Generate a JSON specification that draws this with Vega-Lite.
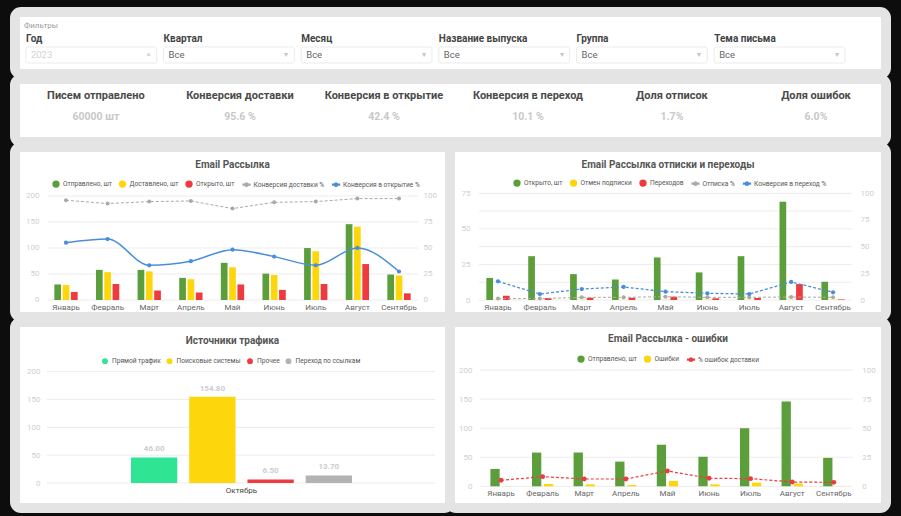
{
  "$schema": "https://vega.github.io/schema/vega-lite/v6.json",
  "background": "#0d0d0d",
  "padding": {"left": 10, "top": 7, "right": 10, "bottom": 3},
  "spacing": -15,
  "resolve": {"scale": {"color": "independent"}, "legend": {"color": "independent"}},
  "datasets": {
    "filters": [
      {"Фильтр": "Год", "Значение": "2023"},
      {"Фильтр": "Квартал", "Значение": "Все"},
      {"Фильтр": "Месяц", "Значение": "Все"},
      {"Фильтр": "Название выпуска", "Значение": "Все"},
      {"Фильтр": "Группа", "Значение": "Все"},
      {"Фильтр": "Тема письма", "Значение": "Все"}
    ],
    "kpi": [
      {"Показатель": "Писем отправлено", "Значение": "60000 шт"},
      {"Показатель": "Конверсия доставки", "Значение": "95.6 %"},
      {"Показатель": "Конверсия в открытие", "Значение": "42.4 %"},
      {"Показатель": "Конверсия в переход", "Значение": "10.1 %"},
      {"Показатель": "Доля отписок", "Значение": "1.7%"},
      {"Показатель": "Доля ошибок", "Значение": "6.0%"}
    ],
    "monthly": [
      {"Месяц": "Январь", "Отправлено, шт": 29.9, "Доставлено, шт": 28.7, "Открыто, шт": 15.5, "Конверсия доставки %": 95.9, "Конверсия в открытие %": 55.1, "Отмен подписки": 0.2, "Переходов": 3.0, "Отписка %": 1.3, "Конверсия в переход %": 17.5, "Ошибки": 0.3, "% ошибок доставки": 5.2},
      {"Месяц": "Февраль", "Отправлено, шт": 58.0, "Доставлено, шт": 53.5, "Открыто, шт": 30.8, "Конверсия доставки %": 92.7, "Конверсия в открытие %": 58.6, "Отмен подписки": 0.2, "Переходов": 1.4, "Отписка %": 1.3, "Конверсия в переход %": 5.6, "Ошибки": 4.0, "% ошибок доставки": 8.3},
      {"Месяц": "Март", "Отправлено, шт": 58.0, "Доставлено, шт": 55.0, "Открыто, шт": 18.2, "Конверсия доставки %": 94.6, "Конверсия в открытие %": 33.4, "Отмен подписки": 0.2, "Переходов": 1.6, "Отписка %": 2.5, "Конверсия в переход %": 10.3, "Ошибки": 3.4, "% ошибок доставки": 6.3},
      {"Месяц": "Апрель", "Отправлено, шт": 42.5, "Доставлено, шт": 40.0, "Открыто, шт": 14.4, "Конверсия доставки %": 95.2, "Конверсия в открытие %": 37.3, "Отмен подписки": 0.2, "Переходов": 1.6, "Отписка %": 2.5, "Конверсия в переход %": 12.2, "Ошибки": 2.3, "% ошибок доставки": 6.3},
      {"Месяц": "Май", "Отправлено, шт": 71.5, "Доставлено, шт": 63.0, "Открыто, шт": 29.9, "Конверсия доставки %": 87.9, "Конверсия в открытие %": 48.4, "Отмен подписки": 0.2, "Переходов": 2.3, "Отписка %": 3.1, "Конверсия в переход %": 7.8, "Ошибки": 9.2, "% ошибок доставки": 13.2},
      {"Месяц": "Июнь", "Отправлено, шт": 50.7, "Доставлено, шт": 48.0, "Открыто, шт": 19.4, "Конверсия доставки %": 93.9, "Конверсия в открытие %": 41.7, "Отмен подписки": 0.2, "Переходов": 1.2, "Отписка %": 2.5, "Конверсия в переход %": 6.3, "Ошибки": 3.4, "% ошибок доставки": 6.9},
      {"Месяц": "Июль", "Отправлено, шт": 99.9, "Доставлено, шт": 93.6, "Открыто, шт": 30.8, "Конверсия доставки %": 94.6, "Конверсия в открытие %": 33.4, "Отмен подписки": 0.2, "Переходов": 1.4, "Отписка %": 2.5, "Конверсия в переход %": 5.6, "Ошибки": 6.3, "% ошибок доставки": 6.6},
      {"Месяц": "Август", "Отправлено, шт": 145.8, "Доставлено, шт": 141.0, "Открыто, шт": 69.1, "Конверсия доставки %": 97.5, "Конверсия в открытие %": 50.0, "Отмен подписки": 0.2, "Переходов": 11.2, "Отписка %": 2.8, "Конверсия в переход %": 16.9, "Ошибки": 4.6, "% ошибок доставки": 3.7},
      {"Месяц": "Сентябрь", "Отправлено, шт": 48.9, "Доставлено, шт": 47.0, "Открыто, шт": 12.8, "Конверсия доставки %": 97.5, "Конверсия в открытие %": 27.4, "Отмен подписки": 0.2, "Переходов": 0.4, "Отписка %": 2.5, "Конверсия в переход %": 7.2, "Ошибки": 0.3, "% ошибок доставки": 3.4}
    ],
    "traffic": [
      {"Месяц": "Октябрь", "Прямой трафик": 46.0, "Поисковые системы": 154.8, "Прочее": 6.5, "Переход по ссылкам": 13.7}
    ]
  },
  "vconcat": [
    {
      "width": 871,
      "height": 62,
      "title": {"text": "Фильтры", "anchor": "start", "dx": 9, "offset": -18, "fontSize": 8, "fontWeight": "normal", "color": "#9b9b9b"},
      "data": {"name": "filters"},
      "layer": [
        {
          "mark": {"type": "rect", "fill": "#ffffff", "stroke": "#ebebeb", "strokeWidth": 1, "cornerRadius": 2},
          "encoding": {
            "x": {"field": "Фильтр", "type": "nominal", "scale": {"type": "band", "domain": ["Год", "Квартал", "Месяц", "Название выпуска", "Группа", "Тема письма"], "paddingInner": 0.05, "paddingOuter": 0.189, "align": 0.21}, "axis": null},
            "y": {"datum": "box", "type": "nominal", "scale": {"type": "band", "domain": ["label", "box"], "paddingInner": 0, "paddingOuter": 0.9375, "align": 0.633}, "axis": null}
          }
        },
        {
          "mark": {"type": "text", "align": "left", "baseline": "middle", "fontSize": 10, "fontWeight": "bold", "color": "#444444"},
          "encoding": {
            "x": {"field": "Фильтр", "type": "nominal", "bandPosition": 0, "scale": {"type": "band", "domain": ["Год", "Квартал", "Месяц", "Название выпуска", "Группа", "Тема письма"], "paddingInner": 0.05, "paddingOuter": 0.189, "align": 0.21}, "axis": null},
            "y": {"datum": "label", "type": "nominal", "scale": {"type": "band", "domain": ["label", "box"], "paddingInner": 0, "paddingOuter": 0.9375, "align": 0.633}, "axis": null},
            "text": {"field": "Фильтр"}
          }
        },
        {
          "mark": {"type": "text", "align": "left", "baseline": "middle", "dx": 5, "fontSize": 9.5},
          "encoding": {
            "x": {"field": "Фильтр", "type": "nominal", "bandPosition": 0, "scale": {"type": "band", "domain": ["Год", "Квартал", "Месяц", "Название выпуска", "Группа", "Тема письма"], "paddingInner": 0.05, "paddingOuter": 0.189, "align": 0.21}, "axis": null},
            "y": {"datum": "box", "type": "nominal", "scale": {"type": "band", "domain": ["label", "box"], "paddingInner": 0, "paddingOuter": 0.9375, "align": 0.633}, "axis": null},
            "text": {"field": "Значение"},
            "color": {"condition": {"test": "datum['Значение'] !== 'Все'", "value": "#d2d2d2"}, "value": "#666666"}
          }
        },
        {
          "mark": {"type": "text", "align": "right", "baseline": "middle", "dx": -6, "fontSize": 8, "color": "#c4c4c4"},
          "encoding": {
            "x": {"field": "Фильтр", "type": "nominal", "bandPosition": 1, "scale": {"type": "band", "domain": ["Год", "Квартал", "Месяц", "Название выпуска", "Группа", "Тема письма"], "paddingInner": 0.05, "paddingOuter": 0.189, "align": 0.21}, "axis": null},
            "y": {"datum": "box", "type": "nominal", "scale": {"type": "band", "domain": ["label", "box"], "paddingInner": 0, "paddingOuter": 0.9375, "align": 0.633}, "axis": null},
            "text": {"condition": {"test": "datum['Значение'] !== 'Все'", "value": "×"}, "value": "▾"}
          }
        }
      ]
    },
    {
      "width": 871,
      "height": 63,
      "data": {"name": "kpi"},
      "layer": [
        {
          "mark": {"type": "text", "fontSize": 11, "fontWeight": "bold", "color": "#4a4a4a"},
          "encoding": {
            "x": {"field": "Показатель", "type": "nominal", "scale": {"type": "point", "domain": ["Писем отправлено", "Конверсия доставки", "Конверсия в открытие", "Конверсия в переход", "Доля отписок", "Доля ошибок"], "padding": 0.524, "align": 0.536}, "axis": null},
            "y": {"datum": "Заголовок", "type": "nominal", "scale": {"type": "point", "domain": ["Заголовок", "Значение"], "padding": 1.0, "align": 0.405}, "axis": null},
            "text": {"field": "Показатель"}
          }
        },
        {
          "mark": {"type": "text", "fontSize": 10.5, "fontWeight": "bold", "color": "#c8c8c8"},
          "encoding": {
            "x": {"field": "Показатель", "type": "nominal", "scale": {"type": "point", "domain": ["Писем отправлено", "Конверсия доставки", "Конверсия в открытие", "Конверсия в переход", "Доля отписок", "Доля ошибок"], "padding": 0.524, "align": 0.536}, "axis": null},
            "y": {"datum": "Значение", "type": "nominal", "scale": {"type": "point", "domain": ["Заголовок", "Значение"], "padding": 1.0, "align": 0.405}, "axis": null},
            "text": {"field": "Значение"}
          }
        }
      ]
    },
    {
      "hconcat": [
        {
          "width": 435,
          "height": 170,
          "title": {"text": "Email Рассылка", "offset": -22.5},
          "data": {"name": "monthly"},
          "layer": [
            {
              "layer": [
                {
                  "data": {"values": [{"v": 0}, {"v": 50}, {"v": 100}, {"v": 150}, {"v": 200}]},
                  "mark": {"type": "rule", "color": "#ececec", "strokeWidth": 1},
                  "encoding": {
                    "x": {"datum": "Январь", "type": "nominal", "bandPosition": -0.273, "scale": {"type": "band", "domain": ["Январь", "Февраль", "Март", "Апрель", "Май", "Июнь", "Июль", "Август", "Сентябрь"], "paddingInner": 0.44, "paddingOuter": 0.945, "align": 0.5}, "axis": {"offset": -17, "labelPadding": 3, "labelColor": "#666666", "labelFontSize": 8, "labelAngle": 0, "title": null}},
                    "x2": {"datum": "Сентябрь", "bandPosition": 1.315},
                    "y": {"field": "v", "type": "quantitative", "scale": {"domain": [-32.7, 294.2], "nice": false, "zero": false}, "axis": {"orient": "left", "offset": -28, "values": [0, 50, 100, 150, 200], "labelColor": "#cfcfcf", "labelFontSize": 8, "labelPadding": 4, "title": null}}
                  }
                },
                {
                  "mark": {"type": "bar", "orient": "vertical"},
                  "encoding": {
                    "x": {"field": "Месяц", "type": "nominal", "bandPosition": 0, "scale": {"type": "band", "domain": ["Январь", "Февраль", "Март", "Апрель", "Май", "Июнь", "Июль", "Август", "Сентябрь"], "paddingInner": 0.44, "paddingOuter": 0.945, "align": 0.5}, "axis": {"offset": -17, "labelPadding": 3, "labelColor": "#666666", "labelFontSize": 8, "labelAngle": 0, "title": null}},
                    "x2": {"field": "Месяц", "bandPosition": 0.2876},
                    "y": {"field": "Отправлено, шт", "type": "quantitative", "scale": {"domain": [-32.7, 294.2], "nice": false, "zero": false}, "axis": {"orient": "left", "offset": -28, "values": [0, 50, 100, 150, 200], "labelColor": "#cfcfcf", "labelFontSize": 8, "labelPadding": 4, "title": null}},
                    "color": {"datum": "Отправлено, шт", "type": "nominal", "scale": {"domain": ["Отправлено, шт", "Доставлено, шт", "Открыто, шт", "Конверсия доставки %", "Конверсия в открытие %"], "range": ["#5c9e3b", "#fdd60b", "#ef3b3e", "#a9a9a9", "#4a8edb"]}, "legend": {"legendX": 37, "legendY": 33, "encode": {"symbols": {"update": {"shape": {"signal": "indexof(datum.value, '%') >= 0 ? 'M-1.15,-0.13H1.15V0.13H-1.15Z M0.55,0L0.39,0.39L0,0.55L-0.39,0.39L-0.55,0L-0.39,-0.39L0,-0.55L0.39,-0.39Z' : 'circle'"}}}}}}
                  }
                },
                {
                  "mark": {"type": "bar", "orient": "vertical"},
                  "encoding": {
                    "x": {"field": "Месяц", "type": "nominal", "bandPosition": 0.3562, "scale": {"type": "band", "domain": ["Январь", "Февраль", "Март", "Апрель", "Май", "Июнь", "Июль", "Август", "Сентябрь"], "paddingInner": 0.44, "paddingOuter": 0.945, "align": 0.5}, "axis": {"offset": -17, "labelPadding": 3, "labelColor": "#666666", "labelFontSize": 8, "labelAngle": 0, "title": null}},
                    "x2": {"field": "Месяц", "bandPosition": 0.6438},
                    "y": {"field": "Доставлено, шт", "type": "quantitative", "scale": {"domain": [-32.7, 294.2], "nice": false, "zero": false}, "axis": {"orient": "left", "offset": -28, "values": [0, 50, 100, 150, 200], "labelColor": "#cfcfcf", "labelFontSize": 8, "labelPadding": 4, "title": null}},
                    "color": {"datum": "Доставлено, шт", "type": "nominal", "scale": {"domain": ["Отправлено, шт", "Доставлено, шт", "Открыто, шт", "Конверсия доставки %", "Конверсия в открытие %"], "range": ["#5c9e3b", "#fdd60b", "#ef3b3e", "#a9a9a9", "#4a8edb"]}, "legend": {"legendX": 37, "legendY": 33, "encode": {"symbols": {"update": {"shape": {"signal": "indexof(datum.value, '%') >= 0 ? 'M-1.15,-0.13H1.15V0.13H-1.15Z M0.55,0L0.39,0.39L0,0.55L-0.39,0.39L-0.55,0L-0.39,-0.39L0,-0.55L0.39,-0.39Z' : 'circle'"}}}}}}
                  }
                },
                {
                  "mark": {"type": "bar", "orient": "vertical"},
                  "encoding": {
                    "x": {"field": "Месяц", "type": "nominal", "bandPosition": 0.7124, "scale": {"type": "band", "domain": ["Январь", "Февраль", "Март", "Апрель", "Май", "Июнь", "Июль", "Август", "Сентябрь"], "paddingInner": 0.44, "paddingOuter": 0.945, "align": 0.5}, "axis": {"offset": -17, "labelPadding": 3, "labelColor": "#666666", "labelFontSize": 8, "labelAngle": 0, "title": null}},
                    "x2": {"field": "Месяц", "bandPosition": 1},
                    "y": {"field": "Открыто, шт", "type": "quantitative", "scale": {"domain": [-32.7, 294.2], "nice": false, "zero": false}, "axis": {"orient": "left", "offset": -28, "values": [0, 50, 100, 150, 200], "labelColor": "#cfcfcf", "labelFontSize": 8, "labelPadding": 4, "title": null}},
                    "color": {"datum": "Открыто, шт", "type": "nominal", "scale": {"domain": ["Отправлено, шт", "Доставлено, шт", "Открыто, шт", "Конверсия доставки %", "Конверсия в открытие %"], "range": ["#5c9e3b", "#fdd60b", "#ef3b3e", "#a9a9a9", "#4a8edb"]}, "legend": {"legendX": 37, "legendY": 33, "encode": {"symbols": {"update": {"shape": {"signal": "indexof(datum.value, '%') >= 0 ? 'M-1.15,-0.13H1.15V0.13H-1.15Z M0.55,0L0.39,0.39L0,0.55L-0.39,0.39L-0.55,0L-0.39,-0.39L0,-0.55L0.39,-0.39Z' : 'circle'"}}}}}}
                  }
                }
              ]
            },
            {
              "layer": [
                {
                  "mark": {"type": "line", "strokeDash": [3, 2], "strokeWidth": 1, "point": {"filled": true, "size": 16}},
                  "encoding": {
                    "x": {"field": "Месяц", "type": "nominal", "scale": {"type": "band", "domain": ["Январь", "Февраль", "Март", "Апрель", "Май", "Июнь", "Июль", "Август", "Сентябрь"], "paddingInner": 0.44, "paddingOuter": 0.945, "align": 0.5}, "axis": {"offset": -17, "labelPadding": 3, "labelColor": "#666666", "labelFontSize": 8, "labelAngle": 0, "title": null}},
                    "y": {"field": "Конверсия доставки %", "type": "quantitative", "scale": {"domain": [-16.35, 147.1], "nice": false, "zero": false}, "axis": {"orient": "right", "offset": -31, "values": [0, 25, 50, 75, 100], "labelColor": "#cfcfcf", "labelFontSize": 8, "labelPadding": 4, "title": null}},
                    "color": {"datum": "Конверсия доставки %", "type": "nominal", "scale": {"domain": ["Отправлено, шт", "Доставлено, шт", "Открыто, шт", "Конверсия доставки %", "Конверсия в открытие %"], "range": ["#5c9e3b", "#fdd60b", "#ef3b3e", "#a9a9a9", "#4a8edb"]}, "legend": {"legendX": 37, "legendY": 33, "encode": {"symbols": {"update": {"shape": {"signal": "indexof(datum.value, '%') >= 0 ? 'M-1.15,-0.13H1.15V0.13H-1.15Z M0.55,0L0.39,0.39L0,0.55L-0.39,0.39L-0.55,0L-0.39,-0.39L0,-0.55L0.39,-0.39Z' : 'circle'"}}}}}}
                  }
                },
                {
                  "mark": {"type": "line", "interpolate": "monotone", "strokeWidth": 1.5, "point": {"filled": true, "size": 18}},
                  "encoding": {
                    "x": {"field": "Месяц", "type": "nominal", "scale": {"type": "band", "domain": ["Январь", "Февраль", "Март", "Апрель", "Май", "Июнь", "Июль", "Август", "Сентябрь"], "paddingInner": 0.44, "paddingOuter": 0.945, "align": 0.5}, "axis": {"offset": -17, "labelPadding": 3, "labelColor": "#666666", "labelFontSize": 8, "labelAngle": 0, "title": null}},
                    "y": {"field": "Конверсия в открытие %", "type": "quantitative", "scale": {"domain": [-16.35, 147.1], "nice": false, "zero": false}, "axis": {"orient": "right", "offset": -31, "values": [0, 25, 50, 75, 100], "labelColor": "#cfcfcf", "labelFontSize": 8, "labelPadding": 4, "title": null}},
                    "color": {"datum": "Конверсия в открытие %", "type": "nominal", "scale": {"domain": ["Отправлено, шт", "Доставлено, шт", "Открыто, шт", "Конверсия доставки %", "Конверсия в открытие %"], "range": ["#5c9e3b", "#fdd60b", "#ef3b3e", "#a9a9a9", "#4a8edb"]}, "legend": {"legendX": 37, "legendY": 33, "encode": {"symbols": {"update": {"shape": {"signal": "indexof(datum.value, '%') >= 0 ? 'M-1.15,-0.13H1.15V0.13H-1.15Z M0.55,0L0.39,0.39L0,0.55L-0.39,0.39L-0.55,0L-0.39,-0.39L0,-0.55L0.39,-0.39Z' : 'circle'"}}}}}}
                  }
                }
              ]
            }
          ],
          "resolve": {"scale": {"y": "independent"}}
        },
        {
          "width": 436,
          "height": 170,
          "title": {"text": "Email Рассылка отписки и переходы", "offset": -22.5},
          "data": {"name": "monthly"},
          "layer": [
            {
              "layer": [
                {
                  "data": {"values": [{"v": 0}, {"v": 12.5}, {"v": 25}, {"v": 37.5}, {"v": 50}, {"v": 62.5}, {"v": 75}]},
                  "mark": {"type": "rule", "color": "#ececec", "strokeWidth": 1},
                  "encoding": {
                    "x": {"datum": "Январь", "type": "nominal", "bandPosition": -0.315, "scale": {"type": "band", "domain": ["Январь", "Февраль", "Март", "Апрель", "Май", "Июнь", "Июль", "Август", "Сентябрь"], "paddingInner": 0.444, "paddingOuter": 0.927, "align": 0.468}, "axis": {"offset": -17, "labelPadding": 3, "labelColor": "#666666", "labelFontSize": 8, "labelAngle": 0, "title": null}},
                    "x2": {"datum": "Сентябрь", "bandPosition": 1.315},
                    "y": {"field": "v", "type": "quantitative", "scale": {"domain": [-11.95, 107.55], "nice": false, "zero": false}, "axis": {"orient": "left", "offset": -24, "values": [0, 25, 50, 75], "labelColor": "#cfcfcf", "labelFontSize": 8, "labelPadding": 4, "title": null}}
                  }
                },
                {
                  "mark": {"type": "bar", "orient": "vertical"},
                  "encoding": {
                    "x": {"field": "Месяц", "type": "nominal", "bandPosition": 0, "scale": {"type": "band", "domain": ["Январь", "Февраль", "Март", "Апрель", "Май", "Июнь", "Июль", "Август", "Сентябрь"], "paddingInner": 0.444, "paddingOuter": 0.927, "align": 0.468}, "axis": {"offset": -17, "labelPadding": 3, "labelColor": "#666666", "labelFontSize": 8, "labelAngle": 0, "title": null}},
                    "x2": {"field": "Месяц", "bandPosition": 0.2876},
                    "y": {"field": "Открыто, шт", "type": "quantitative", "scale": {"domain": [-11.95, 107.55], "nice": false, "zero": false}, "axis": {"orient": "left", "offset": -24, "values": [0, 25, 50, 75], "labelColor": "#cfcfcf", "labelFontSize": 8, "labelPadding": 4, "title": null}},
                    "color": {"datum": "Открыто, шт", "type": "nominal", "scale": {"domain": ["Открыто, шт", "Отмен подписки", "Переходов", "Отписка %", "Конверсия в переход %"], "range": ["#5c9e3b", "#fdd60b", "#ef3b3e", "#a9a9a9", "#4a8edb"]}, "legend": {"legendX": 63, "legendY": 32, "encode": {"symbols": {"update": {"shape": {"signal": "indexof(datum.value, '%') >= 0 ? 'M-1.15,-0.13H1.15V0.13H-1.15Z M0.55,0L0.39,0.39L0,0.55L-0.39,0.39L-0.55,0L-0.39,-0.39L0,-0.55L0.39,-0.39Z' : 'circle'"}}}}}}
                  }
                },
                {
                  "mark": {"type": "bar", "orient": "vertical"},
                  "encoding": {
                    "x": {"field": "Месяц", "type": "nominal", "bandPosition": 0.3562, "scale": {"type": "band", "domain": ["Январь", "Февраль", "Март", "Апрель", "Май", "Июнь", "Июль", "Август", "Сентябрь"], "paddingInner": 0.444, "paddingOuter": 0.927, "align": 0.468}, "axis": {"offset": -17, "labelPadding": 3, "labelColor": "#666666", "labelFontSize": 8, "labelAngle": 0, "title": null}},
                    "x2": {"field": "Месяц", "bandPosition": 0.6438},
                    "y": {"field": "Отмен подписки", "type": "quantitative", "scale": {"domain": [-11.95, 107.55], "nice": false, "zero": false}, "axis": {"orient": "left", "offset": -24, "values": [0, 25, 50, 75], "labelColor": "#cfcfcf", "labelFontSize": 8, "labelPadding": 4, "title": null}},
                    "color": {"datum": "Отмен подписки", "type": "nominal", "scale": {"domain": ["Открыто, шт", "Отмен подписки", "Переходов", "Отписка %", "Конверсия в переход %"], "range": ["#5c9e3b", "#fdd60b", "#ef3b3e", "#a9a9a9", "#4a8edb"]}, "legend": {"legendX": 63, "legendY": 32, "encode": {"symbols": {"update": {"shape": {"signal": "indexof(datum.value, '%') >= 0 ? 'M-1.15,-0.13H1.15V0.13H-1.15Z M0.55,0L0.39,0.39L0,0.55L-0.39,0.39L-0.55,0L-0.39,-0.39L0,-0.55L0.39,-0.39Z' : 'circle'"}}}}}}
                  }
                },
                {
                  "mark": {"type": "bar", "orient": "vertical"},
                  "encoding": {
                    "x": {"field": "Месяц", "type": "nominal", "bandPosition": 0.7124, "scale": {"type": "band", "domain": ["Январь", "Февраль", "Март", "Апрель", "Май", "Июнь", "Июль", "Август", "Сентябрь"], "paddingInner": 0.444, "paddingOuter": 0.927, "align": 0.468}, "axis": {"offset": -17, "labelPadding": 3, "labelColor": "#666666", "labelFontSize": 8, "labelAngle": 0, "title": null}},
                    "x2": {"field": "Месяц", "bandPosition": 1},
                    "y": {"field": "Переходов", "type": "quantitative", "scale": {"domain": [-11.95, 107.55], "nice": false, "zero": false}, "axis": {"orient": "left", "offset": -24, "values": [0, 25, 50, 75], "labelColor": "#cfcfcf", "labelFontSize": 8, "labelPadding": 4, "title": null}},
                    "color": {"datum": "Переходов", "type": "nominal", "scale": {"domain": ["Открыто, шт", "Отмен подписки", "Переходов", "Отписка %", "Конверсия в переход %"], "range": ["#5c9e3b", "#fdd60b", "#ef3b3e", "#a9a9a9", "#4a8edb"]}, "legend": {"legendX": 63, "legendY": 32, "encode": {"symbols": {"update": {"shape": {"signal": "indexof(datum.value, '%') >= 0 ? 'M-1.15,-0.13H1.15V0.13H-1.15Z M0.55,0L0.39,0.39L0,0.55L-0.39,0.39L-0.55,0L-0.39,-0.39L0,-0.55L0.39,-0.39Z' : 'circle'"}}}}}}
                  }
                }
              ]
            },
            {
              "layer": [
                {
                  "mark": {"type": "line", "strokeDash": [3, 2], "strokeWidth": 1, "point": {"filled": true, "size": 16}},
                  "encoding": {
                    "x": {"field": "Месяц", "type": "nominal", "scale": {"type": "band", "domain": ["Январь", "Февраль", "Март", "Апрель", "Май", "Июнь", "Июль", "Август", "Сентябрь"], "paddingInner": 0.444, "paddingOuter": 0.927, "align": 0.468}, "axis": {"offset": -17, "labelPadding": 3, "labelColor": "#666666", "labelFontSize": 8, "labelAngle": 0, "title": null}},
                    "y": {"field": "Отписка %", "type": "quantitative", "scale": {"domain": [-15.93, 143.4], "nice": false, "zero": false}, "axis": {"orient": "right", "offset": -30, "values": [0, 25, 50, 75, 100], "labelColor": "#cfcfcf", "labelFontSize": 8, "labelPadding": 4, "title": null}},
                    "color": {"datum": "Отписка %", "type": "nominal", "scale": {"domain": ["Открыто, шт", "Отмен подписки", "Переходов", "Отписка %", "Конверсия в переход %"], "range": ["#5c9e3b", "#fdd60b", "#ef3b3e", "#a9a9a9", "#4a8edb"]}, "legend": {"legendX": 63, "legendY": 32, "encode": {"symbols": {"update": {"shape": {"signal": "indexof(datum.value, '%') >= 0 ? 'M-1.15,-0.13H1.15V0.13H-1.15Z M0.55,0L0.39,0.39L0,0.55L-0.39,0.39L-0.55,0L-0.39,-0.39L0,-0.55L0.39,-0.39Z' : 'circle'"}}}}}}
                  }
                },
                {
                  "mark": {"type": "line", "strokeDash": [3, 2], "strokeWidth": 1.3, "point": {"filled": true, "size": 18}},
                  "encoding": {
                    "x": {"field": "Месяц", "type": "nominal", "scale": {"type": "band", "domain": ["Январь", "Февраль", "Март", "Апрель", "Май", "Июнь", "Июль", "Август", "Сентябрь"], "paddingInner": 0.444, "paddingOuter": 0.927, "align": 0.468}, "axis": {"offset": -17, "labelPadding": 3, "labelColor": "#666666", "labelFontSize": 8, "labelAngle": 0, "title": null}},
                    "y": {"field": "Конверсия в переход %", "type": "quantitative", "scale": {"domain": [-15.93, 143.4], "nice": false, "zero": false}, "axis": {"orient": "right", "offset": -30, "values": [0, 25, 50, 75, 100], "labelColor": "#cfcfcf", "labelFontSize": 8, "labelPadding": 4, "title": null}},
                    "color": {"datum": "Конверсия в переход %", "type": "nominal", "scale": {"domain": ["Открыто, шт", "Отмен подписки", "Переходов", "Отписка %", "Конверсия в переход %"], "range": ["#5c9e3b", "#fdd60b", "#ef3b3e", "#a9a9a9", "#4a8edb"]}, "legend": {"legendX": 63, "legendY": 32, "encode": {"symbols": {"update": {"shape": {"signal": "indexof(datum.value, '%') >= 0 ? 'M-1.15,-0.13H1.15V0.13H-1.15Z M0.55,0L0.39,0.39L0,0.55L-0.39,0.39L-0.55,0L-0.39,-0.39L0,-0.55L0.39,-0.39Z' : 'circle'"}}}}}}
                  }
                }
              ]
            }
          ],
          "resolve": {"scale": {"y": "independent"}}
        }
      ],
      "spacing": 0,
      "bounds": "flush",
      "resolve": {"scale": {"color": "independent"}, "legend": {"color": "independent"}}
    },
    {
      "hconcat": [
        {
          "width": 435,
          "height": 186,
          "title": {"text": "Источники трафика", "offset": -23.5},
          "data": {"name": "traffic"},
          "layer": [
            {
              "data": {"values": [{"v": 0}, {"v": 50}, {"v": 100}, {"v": 150}, {"v": 200}]},
              "mark": {"type": "rule", "color": "#ececec", "strokeWidth": 1},
              "encoding": {
                "x": {"datum": "Октябрь", "type": "nominal", "bandPosition": -0.381, "scale": {"type": "band", "domain": ["Октябрь"], "paddingInner": 0, "paddingOuter": 0.484, "align": 0.542}, "axis": {"offset": -25, "labelPadding": 3, "labelColor": "#444444", "labelFontSize": 8, "labelAngle": 0, "title": null}},
                "x2": {"datum": "Октябрь", "bandPosition": 1.376},
                "y": {"field": "v", "type": "quantitative", "scale": {"domain": [-44.9, 289.3], "nice": false, "zero": false}, "axis": {"orient": "left", "offset": -29, "values": [0, 50, 100, 150, 200], "labelColor": "#cfcfcf", "labelFontSize": 8, "labelPadding": 4, "title": null}}
              }
            },
            {
              "mark": {"type": "bar", "orient": "vertical"},
              "encoding": {
                "x": {"field": "Месяц", "type": "nominal", "bandPosition": 0, "scale": {"type": "band", "domain": ["Октябрь"], "paddingInner": 0, "paddingOuter": 0.484, "align": 0.542}, "axis": {"offset": -25, "labelPadding": 3, "labelColor": "#444444", "labelFontSize": 8, "labelAngle": 0, "title": null}},
                "x2": {"field": "Месяц", "bandPosition": 0.2095},
                "y": {"field": "Прямой трафик", "type": "quantitative", "scale": {"domain": [-44.9, 289.3], "nice": false, "zero": false}, "axis": {"orient": "left", "offset": -29, "values": [0, 50, 100, 150, 200], "labelColor": "#cfcfcf", "labelFontSize": 8, "labelPadding": 4, "title": null}},
                "color": {"datum": "Прямой трафик", "type": "nominal", "scale": {"domain": ["Прямой трафик", "Поисковые системы", "Прочее", "Переход по ссылкам"], "range": ["#2fe594", "#fdd60b", "#ef3b3e", "#b3b3b3"]}, "legend": {"legendX": 86, "legendY": 35}}
              }
            },
            {
              "mark": {"type": "bar", "orient": "vertical"},
              "encoding": {
                "x": {"field": "Месяц", "type": "nominal", "bandPosition": 0.2635, "scale": {"type": "band", "domain": ["Октябрь"], "paddingInner": 0, "paddingOuter": 0.484, "align": 0.542}, "axis": {"offset": -25, "labelPadding": 3, "labelColor": "#444444", "labelFontSize": 8, "labelAngle": 0, "title": null}},
                "x2": {"field": "Месяц", "bandPosition": 0.473},
                "y": {"field": "Поисковые системы", "type": "quantitative", "scale": {"domain": [-44.9, 289.3], "nice": false, "zero": false}, "axis": {"orient": "left", "offset": -29, "values": [0, 50, 100, 150, 200], "labelColor": "#cfcfcf", "labelFontSize": 8, "labelPadding": 4, "title": null}},
                "color": {"datum": "Поисковые системы", "type": "nominal", "scale": {"domain": ["Прямой трафик", "Поисковые системы", "Прочее", "Переход по ссылкам"], "range": ["#2fe594", "#fdd60b", "#ef3b3e", "#b3b3b3"]}, "legend": {"legendX": 86, "legendY": 35}}
              }
            },
            {
              "mark": {"type": "bar", "orient": "vertical"},
              "encoding": {
                "x": {"field": "Месяц", "type": "nominal", "bandPosition": 0.527, "scale": {"type": "band", "domain": ["Октябрь"], "paddingInner": 0, "paddingOuter": 0.484, "align": 0.542}, "axis": {"offset": -25, "labelPadding": 3, "labelColor": "#444444", "labelFontSize": 8, "labelAngle": 0, "title": null}},
                "x2": {"field": "Месяц", "bandPosition": 0.7365},
                "y": {"field": "Прочее", "type": "quantitative", "scale": {"domain": [-44.9, 289.3], "nice": false, "zero": false}, "axis": {"orient": "left", "offset": -29, "values": [0, 50, 100, 150, 200], "labelColor": "#cfcfcf", "labelFontSize": 8, "labelPadding": 4, "title": null}},
                "color": {"datum": "Прочее", "type": "nominal", "scale": {"domain": ["Прямой трафик", "Поисковые системы", "Прочее", "Переход по ссылкам"], "range": ["#2fe594", "#fdd60b", "#ef3b3e", "#b3b3b3"]}, "legend": {"legendX": 86, "legendY": 35}}
              }
            },
            {
              "mark": {"type": "bar", "orient": "vertical"},
              "encoding": {
                "x": {"field": "Месяц", "type": "nominal", "bandPosition": 0.7905, "scale": {"type": "band", "domain": ["Октябрь"], "paddingInner": 0, "paddingOuter": 0.484, "align": 0.542}, "axis": {"offset": -25, "labelPadding": 3, "labelColor": "#444444", "labelFontSize": 8, "labelAngle": 0, "title": null}},
                "x2": {"field": "Месяц", "bandPosition": 1},
                "y": {"field": "Переход по ссылкам", "type": "quantitative", "scale": {"domain": [-44.9, 289.3], "nice": false, "zero": false}, "axis": {"orient": "left", "offset": -29, "values": [0, 50, 100, 150, 200], "labelColor": "#cfcfcf", "labelFontSize": 8, "labelPadding": 4, "title": null}},
                "color": {"datum": "Переход по ссылкам", "type": "nominal", "scale": {"domain": ["Прямой трафик", "Поисковые системы", "Прочее", "Переход по ссылкам"], "range": ["#2fe594", "#fdd60b", "#ef3b3e", "#b3b3b3"]}, "legend": {"legendX": 86, "legendY": 35}}
              }
            },
            {
              "mark": {"type": "text", "dy": -8, "fontSize": 8, "fontWeight": "bold", "color": "#cdcdcd"},
              "encoding": {
                "x": {"field": "Месяц", "type": "nominal", "bandPosition": 0.1048, "scale": {"type": "band", "domain": ["Октябрь"], "paddingInner": 0, "paddingOuter": 0.484, "align": 0.542}, "axis": {"offset": -25, "labelPadding": 3, "labelColor": "#444444", "labelFontSize": 8, "labelAngle": 0, "title": null}},
                "y": {"field": "Прямой трафик", "type": "quantitative", "scale": {"domain": [-44.9, 289.3], "nice": false, "zero": false}, "axis": {"orient": "left", "offset": -29, "values": [0, 50, 100, 150, 200], "labelColor": "#cfcfcf", "labelFontSize": 8, "labelPadding": 4, "title": null}},
                "text": {"field": "Прямой трафик", "type": "quantitative", "format": ".2f"}
              }
            },
            {
              "mark": {"type": "text", "dy": -8, "fontSize": 8, "fontWeight": "bold", "color": "#cdcdcd"},
              "encoding": {
                "x": {"field": "Месяц", "type": "nominal", "bandPosition": 0.3683, "scale": {"type": "band", "domain": ["Октябрь"], "paddingInner": 0, "paddingOuter": 0.484, "align": 0.542}, "axis": {"offset": -25, "labelPadding": 3, "labelColor": "#444444", "labelFontSize": 8, "labelAngle": 0, "title": null}},
                "y": {"field": "Поисковые системы", "type": "quantitative", "scale": {"domain": [-44.9, 289.3], "nice": false, "zero": false}, "axis": {"orient": "left", "offset": -29, "values": [0, 50, 100, 150, 200], "labelColor": "#cfcfcf", "labelFontSize": 8, "labelPadding": 4, "title": null}},
                "text": {"field": "Поисковые системы", "type": "quantitative", "format": ".2f"}
              }
            },
            {
              "mark": {"type": "text", "dy": -8, "fontSize": 8, "fontWeight": "bold", "color": "#cdcdcd"},
              "encoding": {
                "x": {"field": "Месяц", "type": "nominal", "bandPosition": 0.6318, "scale": {"type": "band", "domain": ["Октябрь"], "paddingInner": 0, "paddingOuter": 0.484, "align": 0.542}, "axis": {"offset": -25, "labelPadding": 3, "labelColor": "#444444", "labelFontSize": 8, "labelAngle": 0, "title": null}},
                "y": {"field": "Прочее", "type": "quantitative", "scale": {"domain": [-44.9, 289.3], "nice": false, "zero": false}, "axis": {"orient": "left", "offset": -29, "values": [0, 50, 100, 150, 200], "labelColor": "#cfcfcf", "labelFontSize": 8, "labelPadding": 4, "title": null}},
                "text": {"field": "Прочее", "type": "quantitative", "format": ".2f"}
              }
            },
            {
              "mark": {"type": "text", "dy": -8, "fontSize": 8, "fontWeight": "bold", "color": "#cdcdcd"},
              "encoding": {
                "x": {"field": "Месяц", "type": "nominal", "bandPosition": 0.8953, "scale": {"type": "band", "domain": ["Октябрь"], "paddingInner": 0, "paddingOuter": 0.484, "align": 0.542}, "axis": {"offset": -25, "labelPadding": 3, "labelColor": "#444444", "labelFontSize": 8, "labelAngle": 0, "title": null}},
                "y": {"field": "Переход по ссылкам", "type": "quantitative", "scale": {"domain": [-44.9, 289.3], "nice": false, "zero": false}, "axis": {"orient": "left", "offset": -29, "values": [0, 50, 100, 150, 200], "labelColor": "#cfcfcf", "labelFontSize": 8, "labelPadding": 4, "title": null}},
                "text": {"field": "Переход по ссылкам", "type": "quantitative", "format": ".2f"}
              }
            }
          ]
        },
        {
          "width": 436,
          "height": 186,
          "title": {"text": "Email Рассылка - ошибки", "offset": -21.5},
          "data": {"name": "monthly"},
          "layer": [
            {
              "layer": [
                {
                  "data": {"values": [{"v": 0}, {"v": 50}, {"v": 100}, {"v": 150}, {"v": 200}]},
                  "mark": {"type": "rule", "color": "#ececec", "strokeWidth": 1},
                  "encoding": {
                    "x": {"datum": "Январь", "type": "nominal", "bandPosition": -0.486, "scale": {"type": "band", "domain": ["Январь", "Февраль", "Март", "Апрель", "Май", "Июнь", "Июль", "Август", "Сентябрь"], "paddingInner": 0.488, "paddingOuter": 0.985, "align": 0.493}, "axis": {"offset": -21.7, "labelPadding": 3, "labelColor": "#666666", "labelFontSize": 8, "labelAngle": 0, "title": null}},
                    "x2": {"datum": "Сентябрь", "bandPosition": 1.392},
                    "y": {"field": "v", "type": "quantitative", "scale": {"domain": [-37.3, 282.6], "nice": false, "zero": false}, "axis": {"orient": "left", "offset": -26, "values": [0, 50, 100, 150, 200], "labelColor": "#cfcfcf", "labelFontSize": 8, "labelPadding": 4, "title": null}}
                  }
                },
                {
                  "mark": {"type": "bar", "orient": "vertical"},
                  "encoding": {
                    "x": {"field": "Месяц", "type": "nominal", "bandPosition": 0, "scale": {"type": "band", "domain": ["Январь", "Февраль", "Март", "Апрель", "Май", "Июнь", "Июль", "Август", "Сентябрь"], "paddingInner": 0.488, "paddingOuter": 0.985, "align": 0.493}, "axis": {"offset": -21.7, "labelPadding": 3, "labelColor": "#666666", "labelFontSize": 8, "labelAngle": 0, "title": null}},
                    "x2": {"field": "Месяц", "bandPosition": 0.4366},
                    "y": {"field": "Отправлено, шт", "type": "quantitative", "scale": {"domain": [-37.3, 282.6], "nice": false, "zero": false}, "axis": {"orient": "left", "offset": -26, "values": [0, 50, 100, 150, 200], "labelColor": "#cfcfcf", "labelFontSize": 8, "labelPadding": 4, "title": null}},
                    "color": {"datum": "Отправлено, шт", "type": "nominal", "scale": {"domain": ["Отправлено, шт", "Ошибки", "% ошибок доставки"], "range": ["#5c9e3b", "#fdd60b", "#ef3b3e"]}, "legend": {"legendX": 127, "legendY": 33, "encode": {"symbols": {"update": {"shape": {"signal": "indexof(datum.value, '%') >= 0 ? 'M-1.15,-0.13H1.15V0.13H-1.15Z M0.55,0L0.39,0.39L0,0.55L-0.39,0.39L-0.55,0L-0.39,-0.39L0,-0.55L0.39,-0.39Z' : 'circle'"}}}}}}
                  }
                },
                {
                  "mark": {"type": "bar", "orient": "vertical"},
                  "encoding": {
                    "x": {"field": "Месяц", "type": "nominal", "bandPosition": 0.5634, "scale": {"type": "band", "domain": ["Январь", "Февраль", "Март", "Апрель", "Май", "Июнь", "Июль", "Август", "Сентябрь"], "paddingInner": 0.488, "paddingOuter": 0.985, "align": 0.493}, "axis": {"offset": -21.7, "labelPadding": 3, "labelColor": "#666666", "labelFontSize": 8, "labelAngle": 0, "title": null}},
                    "x2": {"field": "Месяц", "bandPosition": 1},
                    "y": {"field": "Ошибки", "type": "quantitative", "scale": {"domain": [-37.3, 282.6], "nice": false, "zero": false}, "axis": {"orient": "left", "offset": -26, "values": [0, 50, 100, 150, 200], "labelColor": "#cfcfcf", "labelFontSize": 8, "labelPadding": 4, "title": null}},
                    "color": {"datum": "Ошибки", "type": "nominal", "scale": {"domain": ["Отправлено, шт", "Ошибки", "% ошибок доставки"], "range": ["#5c9e3b", "#fdd60b", "#ef3b3e"]}, "legend": {"legendX": 127, "legendY": 33, "encode": {"symbols": {"update": {"shape": {"signal": "indexof(datum.value, '%') >= 0 ? 'M-1.15,-0.13H1.15V0.13H-1.15Z M0.55,0L0.39,0.39L0,0.55L-0.39,0.39L-0.55,0L-0.39,-0.39L0,-0.55L0.39,-0.39Z' : 'circle'"}}}}}}
                  }
                }
              ]
            },
            {
              "mark": {"type": "line", "strokeDash": [3, 2], "strokeWidth": 1.2, "point": {"filled": true, "size": 24}},
              "encoding": {
                "x": {"field": "Месяц", "type": "nominal", "scale": {"type": "band", "domain": ["Январь", "Февраль", "Март", "Апрель", "Май", "Июнь", "Июль", "Август", "Сентябрь"], "paddingInner": 0.488, "paddingOuter": 0.985, "align": 0.493}, "axis": {"offset": -21.7, "labelPadding": 3, "labelColor": "#666666", "labelFontSize": 8, "labelAngle": 0, "title": null}},
                "y": {"field": "% ошибок доставки", "type": "quantitative", "scale": {"domain": [-18.65, 141.3], "nice": false, "zero": false}, "axis": {"orient": "right", "offset": -28.3, "values": [0, 25, 50, 75, 100], "labelColor": "#cfcfcf", "labelFontSize": 8, "labelPadding": 4, "title": null}},
                "color": {"datum": "% ошибок доставки", "type": "nominal", "scale": {"domain": ["Отправлено, шт", "Ошибки", "% ошибок доставки"], "range": ["#5c9e3b", "#fdd60b", "#ef3b3e"]}, "legend": {"legendX": 127, "legendY": 33, "encode": {"symbols": {"update": {"shape": {"signal": "indexof(datum.value, '%') >= 0 ? 'M-1.15,-0.13H1.15V0.13H-1.15Z M0.55,0L0.39,0.39L0,0.55L-0.39,0.39L-0.55,0L-0.39,-0.39L0,-0.55L0.39,-0.39Z' : 'circle'"}}}}}}
              }
            }
          ],
          "resolve": {"scale": {"y": "independent"}}
        }
      ],
      "spacing": 0,
      "bounds": "flush",
      "resolve": {"scale": {"color": "independent"}, "legend": {"color": "independent"}}
    }
  ],
  "config": {
    "font": "Roboto",
    "view": {"fill": "#ffffff", "stroke": "#e4e4e4", "strokeWidth": 10, "cornerRadius": 6},
    "title": {"fontSize": 10, "fontWeight": "bold", "color": "#555555", "frame": "group", "anchor": "middle"},
    "axis": {"domain": false, "ticks": false, "grid": false},
    "legend": {"orient": "none", "direction": "horizontal", "title": null, "symbolType": "circle", "symbolSize": 34, "labelFont": "Roboto", "labelFontSize": 6.6, "labelColor": "#555555", "columnPadding": 4.5, "labelOffset": 3, "labelLimit": 300, "gridAlign": "each"}
  }
}
